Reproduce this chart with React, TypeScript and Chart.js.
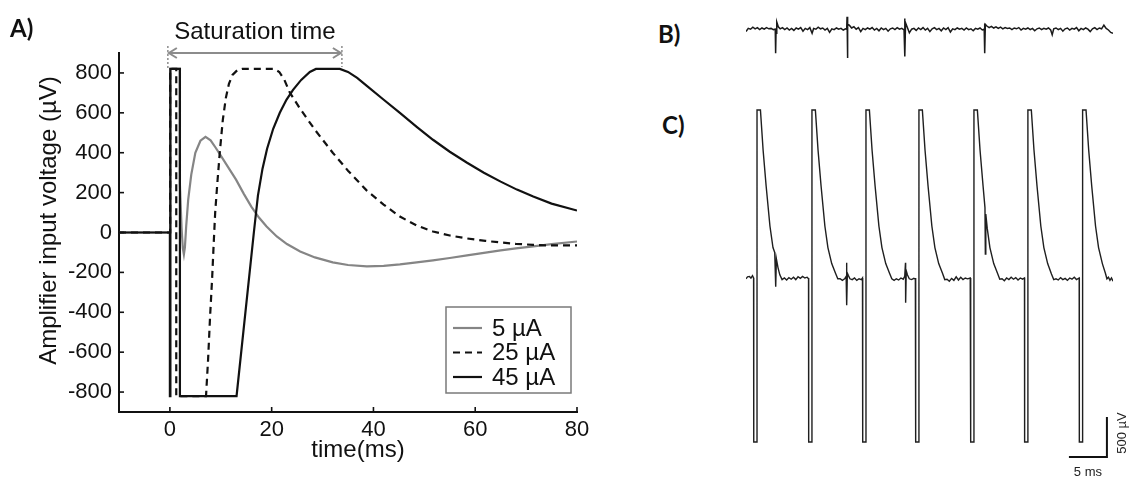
import React, { useEffect, useRef } from "react";
import { Chart, registerables } from "chart.js";

Chart.register(...registerables);

type P = [number, number];

const FONT = "'Liberation Sans', Arial, Helvetica, sans-serif";

// ---------------- Panel A : amplifier input voltage vs time ----------------
const timeTicksA = [0, 20, 40, 60, 80];
const voltTicksA = [-800, -600, -400, -200, 0, 200, 400, 600, 800];
const seriesLabelsA = ["5 µA", "25 µA", "45 µA"];
const saturationSpanA: P = [-0.4, 33.8];

const curve5uA: P[] = [
  [-10, 0], [0.05, 0], [0.05, 820], [1.95, 820], [1.95, 250], [2.3, 20], [2.55, -80], [2.75, -110],
  [2.95, -75], [3.2, 30], [3.6, 165], [4.2, 290], [5.0, 400], [6.0, 460], [7.0, 480], [8.0, 462],
  [9.0, 425], [10.0, 385], [11.5, 325], [13.0, 265], [14.5, 195], [16.0, 130], [17.5, 75], [19.0, 30],
  [21.0, -20], [23.0, -58], [25.6, -95], [28.5, -125], [32.0, -150], [35.0, -163], [38.7, -170],
  [42.0, -167], [45.2, -160], [48.5, -150], [51.7, -140], [55.0, -128], [58.4, -115], [61.7, -102],
  [65.0, -90], [68.0, -80], [71.4, -70], [75.0, -58], [80.0, -45],
];

const curve25uA: P[] = [
  [-10, 0], [0.05, 0], [0.05, 820], [1.25, 820], [1.25, -820], [7.1, -820], [7.5, -640], [7.9, -420],
  [8.3, -230], [8.6, -60], [8.9, 100], [9.3, 240], [9.8, 400], [10.4, 565], [11.0, 675], [11.6, 745],
  [12.3, 790], [13.3, 815], [14.2, 820], [20.5, 820], [21.5, 805], [22.5, 765], [23.6, 700], [25.6, 620],
  [28.5, 515], [32.0, 400], [35.0, 310], [38.7, 210], [42.0, 140], [45.2, 80], [48.5, 35], [51.7, 5],
  [55.0, -15], [58.4, -30], [62.0, -42], [65.0, -50], [68.0, -57], [71.4, -62], [75.0, -65], [80.0, -65],
];

const curve45uA: P[] = [
  [-10, 0], [0, 0], [0, -820], [0.1, -820], [0.1, 820], [1.97, 820], [1.97, -820], [13.1, -820],
  [16.5, 0], [17.3, 185], [18.2, 320], [19.1, 420], [20.3, 520], [21.6, 600], [22.9, 665], [24.2, 715],
  [25.8, 765], [27.5, 805], [28.7, 820], [33.4, 820], [35.0, 805], [36.8, 775], [38.7, 735], [41.9, 668],
  [45.2, 600], [48.5, 530], [51.7, 465], [55.0, 405], [58.4, 350], [61.7, 300], [65.0, 255], [68.2, 215],
  [71.4, 180], [75.0, 145], [80.0, 110],
];

// ---------------- Panel B : recording without stimulation (ms, µV) ----------------
const traceB: P[] = [
  [0, -20], [0.3, 20], [0.6, 10], [0.9, 35], [1.2, 15], [1.5, 30], [1.8, 5], [2.1, 25], [2.4, 10], [2.7, 30],
  [3.0, 15], [3.3, 20], [3.6, 5], [3.85, 10], [3.9, -290], [3.95, -40], [4.05, 100], [4.25, 40], [4.5, 15],
  [4.8, 30], [5.1, 5], [5.4, 25], [5.7, 0], [6.0, 20], [6.3, -5], [6.6, 25], [6.9, 10], [7.2, 30], [7.5, -15],
  [7.8, 20], [8.1, 5], [8.4, 30], [8.7, -40], [8.9, 20], [9.2, 10], [9.5, 35], [9.8, 15], [10.1, 25], [10.4, 0],
  [10.7, 20], [11.0, -30], [11.3, 15], [11.6, 5], [11.9, 25], [12.2, 10], [12.5, 20], [12.8, 0], [13.1, 15],
  [13.25, 10], [13.3, 165], [13.33, -350], [13.42, 70], [13.6, 60], [13.9, 25], [14.2, 40], [14.5, 10],
  [14.8, 30], [15.1, -20], [15.4, 20], [15.7, 5], [16.0, 25], [16.3, 10], [16.6, 30], [16.9, 0], [17.2, 20],
  [17.5, -10], [17.8, 25], [18.1, 5], [18.4, 20], [18.7, -15], [19.0, 15], [19.3, 25], [19.6, 5], [19.9, 30],
  [20.2, 10], [20.5, 20], [20.8, 0], [20.88, 145], [20.92, -330], [21.0, 90], [21.2, 40], [21.5, -35],
  [21.8, 10], [22.1, 20], [22.4, -5], [22.7, 25], [23.0, 5], [23.3, 30], [23.6, 0], [23.9, 20], [24.2, -20],
  [24.5, 15], [24.8, 30], [25.1, 5], [25.4, 20], [25.7, -10], [26.0, 25], [26.3, 5], [26.6, 30], [26.9, -25],
  [27.2, 15], [27.5, 5], [27.8, 25], [28.1, 10], [28.4, 20], [28.7, 0], [29.0, 25], [29.3, 5], [29.6, 15],
  [29.9, -10], [30.2, 20], [30.5, 10], [30.8, 25], [31.1, 0], [31.35, 10], [31.4, 80], [31.43, -290],
  [31.5, 70], [31.7, 50], [32.0, 30], [32.3, 45], [32.6, 25], [32.9, 40], [33.2, 20], [33.5, 35], [33.8, 15],
  [34.1, 30], [34.4, 20], [34.7, 25], [35.0, 5], [35.3, 25], [35.6, 15], [35.9, 30], [36.2, 0], [36.5, 20],
  [36.8, 10], [37.1, 25], [37.4, 5], [37.7, 20], [38.0, -10], [38.3, 15], [38.6, 25], [38.9, 5], [39.2, 20],
  [39.5, 10], [39.8, 25], [40.1, 0], [40.3, -60], [40.5, 15], [40.8, 25], [41.1, 5], [41.4, 20], [41.7, -15],
  [42.0, 15], [42.3, 25], [42.6, 0], [42.9, 20], [43.2, 10], [43.5, 30], [43.8, -10], [44.1, 20], [44.4, 5],
  [44.7, 25], [45.0, 10], [45.3, -20], [45.6, 15], [45.9, 30], [46.2, 5], [46.5, 25], [46.8, 15], [47.1, 60],
  [47.4, 20], [47.7, 0], [48.0, -30], [48.3, -40],
];

// ---------------- Panel C : recording during stimulation (ms, µV) ----------------
const pulseTimesC = [1.45, 8.68, 15.79, 22.76, 30.0, 37.1, 44.3];
const pulseShapeC: P[] = [[-0.43, 0], [-0.43, -2050], [0, -2050], [0, 2100], [0.45, 2100]];
const leadInC: P[] = [[0, -10], [0.2, 15], [0.45, 20], [0.65, 0], [0.85, 30], [1.0, 0]];
const pulseTailsC: P[][] = [
  [[0.8, 1600], [1.2, 1150], [1.7, 650], [2.1, 380], [2.33, 320], [2.46, -110], [2.55, 240], [2.76, 130],
   [3.0, 40], [3.3, -20], [3.6, 0], [3.9, -25], [4.2, 5], [4.5, -15], [4.8, 10], [5.1, -20], [5.4, 15],
   [5.7, -5], [6.0, 20], [6.3, 0], [6.6, 10], [6.78, -10]],
  [[0.8, 1600], [1.2, 1150], [1.7, 650], [2.1, 380], [2.6, 180], [3.1, 60], [3.4, -10], [3.7, -10],
   [4.0, -30], [4.3, -10], [4.5, 20], [4.56, 190], [4.58, -340], [4.66, 60], [4.8, 30], [5.0, -10],
   [5.3, -20], [5.6, 0], [5.9, -30], [6.2, -10], [6.5, -20], [6.65, 0]],
  [[0.8, 1600], [1.2, 1150], [1.7, 650], [2.1, 380], [2.6, 180], [3.1, 60], [3.4, -10], [3.7, -30],
   [4.0, -10], [4.3, -25], [4.6, 0], [4.9, -15], [5.1, 20], [5.2, 190], [5.22, -310], [5.3, 90],
   [5.45, 40], [5.7, -10], [6.0, -20], [6.3, -5], [6.5, -15]],
  [[0.8, 1600], [1.2, 1150], [1.7, 650], [2.1, 380], [2.6, 180], [3.1, 60], [3.4, -20], [3.7, -15],
   [4.0, -40], [4.3, -5], [4.6, -30], [4.9, 15], [5.2, -25], [5.5, 10], [5.8, -20], [6.1, 0], [6.4, -10],
   [6.75, 0]],
  [[0.8, 1600], [1.2, 1150], [1.45, 880], [1.5, 300], [1.56, 800], [1.75, 620], [2.1, 380], [2.6, 180],
   [3.1, 60], [3.4, -15], [3.7, -10], [4.0, -35], [4.3, 0], [4.6, -20], [4.9, 10], [5.2, -15], [5.5, 5],
   [5.8, -25], [6.1, 0], [6.4, -15], [6.65, 0]],
  [[0.8, 1600], [1.2, 1150], [1.7, 650], [2.1, 380], [2.6, 180], [3.1, 50], [3.4, -20], [3.7, -10],
   [4.0, -25], [4.3, 5], [4.6, -20], [4.9, -5], [5.2, -30], [5.5, 0], [5.8, -15], [6.1, 10], [6.4, -20],
   [6.75, 0]],
  [[0.8, 1600], [1.2, 1150], [1.7, 650], [2.1, 380], [2.6, 180], [3.0, 60], [3.2, -10], [3.4, 10],
   [3.6, -30], [3.8, 0], [4.0, -40]],
];
const scaleBarCornerC: P = [47.5, -2237];
const scaleBarMsC = 5;
const scaleBarUvC = 500;

// ---------------- helpers ----------------
const toXY = (arr: P[]) => arr.map(([x, y]) => ({ x, y }));

function buildTraceC() {
  const out: { x: number; y: number }[] = [];
  leadInC.forEach(([t, v]) => out.push({ x: t, y: v }));
  pulseTimesC.forEach((T, i) => {
    pulseShapeC.forEach(([dt, v]) => out.push({ x: T + dt, y: v }));
    pulseTailsC[i].forEach(([dt, v]) => out.push({ x: T + dt, y: v }));
  });
  return out;
}

function seg(ctx: CanvasRenderingContext2D, x1: number, y1: number, x2: number, y2: number) {
  ctx.beginPath();
  ctx.moveTo(x1, y1);
  ctx.lineTo(x2, y2);
  ctx.stroke();
}

const panelAPlugin = {
  id: "panelAExtras",
  afterDraw(chart: any) {
    const { ctx, chartArea: ca } = chart;
    const x = chart.scales.x;
    const y = chart.scales.y;
    ctx.save();
    // inward tick marks
    ctx.strokeStyle = "#111";
    ctx.lineWidth = 1.6;
    timeTicksA.forEach((v) => {
      const px = x.getPixelForValue(v);
      seg(ctx, px, ca.bottom, px, ca.bottom - 5);
    });
    voltTicksA.forEach((v) => {
      const py = y.getPixelForValue(v);
      seg(ctx, ca.left, py, ca.left + 5, py);
    });

    // axis titles
    ctx.fillStyle = "#111";
    ctx.font = `24px ${FONT}`;
    ctx.textAlign = "center";
    ctx.textBaseline = "middle";
    ctx.fillText("time(ms)", (ca.left + ca.right) / 2 + 10, ca.bottom + 38);
    ctx.save();
    ctx.translate(ca.left - 70, (ca.top + ca.bottom) / 2 - 12);
    ctx.rotate(-Math.PI / 2);
    ctx.fillText("Amplifier input voltage (µV)", 0, 0);
    ctx.restore();

    // saturation time arrow
    const xs = x.getPixelForValue(saturationSpanA[0]);
    const xe = x.getPixelForValue(saturationSpanA[1]);
    const ya = ca.top;
    ctx.strokeStyle = "#8c8c8c";
    ctx.lineWidth = 2;
    seg(ctx, xs + 1, ya, xe - 1, ya);
    ctx.beginPath();
    ctx.moveTo(xs + 9, ya - 5);
    ctx.lineTo(xs + 1, ya);
    ctx.lineTo(xs + 9, ya + 5);
    ctx.moveTo(xe - 9, ya - 5);
    ctx.lineTo(xe - 1, ya);
    ctx.lineTo(xe - 9, ya + 5);
    ctx.stroke();
    ctx.setLineDash([2, 2]);
    ctx.lineWidth = 1.5;
    seg(ctx, xs, ya - 7, xs, ya + 16);
    seg(ctx, xe, ya - 7, xe, ya + 14);
    ctx.setLineDash([]);
    ctx.fillStyle = "#111";
    ctx.fillText("Saturation time", (xs + xe) / 2, ya - 21);

    // legend
    const lw = 125, lh = 86;
    const lx = ca.right - 6 - lw;
    const ly = ca.bottom - 19 - lh;
    ctx.fillStyle = "#fff";
    ctx.fillRect(lx, ly, lw, lh);
    ctx.strokeStyle = "#7a7a7a";
    ctx.lineWidth = 1.5;
    ctx.strokeRect(lx, ly, lw, lh);
    chart.data.datasets.forEach((ds: any, i: number) => {
      const yy = ly + 21 + i * 24.5;
      ctx.strokeStyle = ds.borderColor;
      ctx.lineWidth = 2.2;
      ctx.setLineDash(ds.borderDash || []);
      seg(ctx, lx + 7, yy, lx + 36, yy);
      ctx.setLineDash([]);
      ctx.fillStyle = "#111";
      ctx.textAlign = "left";
      ctx.fillText(seriesLabelsA[i], lx + 46, yy + 1);
    });
    ctx.restore();
  },
};

const panelCPlugin = {
  id: "panelCExtras",
  afterDraw(chart: any) {
    const { ctx } = chart;
    const x = chart.scales.x;
    const y = chart.scales.y;
    const x0 = x.getPixelForValue(scaleBarCornerC[0] - scaleBarMsC);
    const x1 = x.getPixelForValue(scaleBarCornerC[0]);
    const y0 = y.getPixelForValue(scaleBarCornerC[1]);
    const y1 = y.getPixelForValue(scaleBarCornerC[1] + scaleBarUvC);
    ctx.save();
    ctx.fillStyle = "#222";
    ctx.font = `13px ${FONT}`;
    ctx.textAlign = "center";
    ctx.textBaseline = "middle";
    ctx.fillText(`${scaleBarMsC} ms`, (x0 + x1) / 2, y0 + 15);
    ctx.translate(x1 + 16, (y0 + y1) / 2 - 4);
    ctx.rotate(-Math.PI / 2);
    ctx.fillText(`${scaleBarUvC} µV`, 0, 0);
    ctx.restore();
  },
};

function useChart(ref: React.RefObject<HTMLCanvasElement | null>, make: () => any) {
  useEffect(() => {
    if (!ref.current) return;
    const chart = new Chart(ref.current, make());
    return () => chart.destroy();
  }, []);
}

function PanelA() {
  const ref = useRef<HTMLCanvasElement>(null);
  useChart(ref, () => ({
    type: "line",
    data: {
      datasets: [
        { label: seriesLabelsA[0], data: toXY(curve5uA), borderColor: "#858585", borderWidth: 2.2, order: 3 },
        { label: seriesLabelsA[1], data: toXY(curve25uA), borderColor: "#111", borderWidth: 2.2, borderDash: [7, 5], order: 2 },
        { label: seriesLabelsA[2], data: toXY(curve45uA), borderColor: "#111", borderWidth: 2.2, order: 1 },
      ],
    },
    options: {
      animation: false,
      responsive: false,
      devicePixelRatio: 1,
      layout: { padding: { left: 0, right: 43, top: 53, bottom: 0 } },
      elements: { point: { radius: 0 }, line: { tension: 0, fill: false } },
      plugins: { legend: { display: false }, tooltip: { enabled: false } },
      scales: {
        x: {
          type: "linear",
          min: -10,
          max: 80,
          afterBuildTicks: (s: any) => { s.ticks = timeTicksA.map((v) => ({ value: v })); },
          afterFit: (s: any) => { s.height = 65; },
          grid: { display: false, drawTicks: false },
          border: { display: true, color: "#111", width: 2 },
          ticks: { font: { size: 22, family: FONT }, color: "#111", padding: 5, maxRotation: 0, autoSkip: false },
        },
        y: {
          type: "linear",
          min: -900,
          max: 900,
          afterBuildTicks: (s: any) => { s.ticks = voltTicksA.map((v) => ({ value: v })); },
          afterFit: (s: any) => { s.width = 119; },
          grid: { display: false, drawTicks: false },
          border: { display: true, color: "#111", width: 2 },
          ticks: { font: { size: 22, family: FONT }, color: "#111", padding: 7, autoSkip: false },
        },
      },
    },
    plugins: [panelAPlugin],
  }));
  return <canvas ref={ref} width={620} height={477} style={{ position: "absolute", left: 0, top: 0 }} />;
}

function PanelB() {
  const ref = useRef<HTMLCanvasElement>(null);
  useChart(ref, () => ({
    type: "line",
    data: { datasets: [{ data: toXY(traceB), borderColor: "#1a1a1a", borderWidth: 1.5 }] },
    options: {
      animation: false,
      responsive: false,
      devicePixelRatio: 1,
      layout: { padding: { left: 46, right: 20, top: 0, bottom: 0 } },
      elements: { point: { radius: 0 }, line: { tension: 0 } },
      plugins: { legend: { display: false }, tooltip: { enabled: false } },
      scales: {
        x: { type: "linear", min: 0, max: 48.3, display: false },
        y: { type: "linear", min: -500, max: 375, display: false },
      },
    },
  }));
  return <canvas ref={ref} width={433} height={70} style={{ position: "absolute", left: 700, top: 0 }} />;
}

function PanelC() {
  const ref = useRef<HTMLCanvasElement>(null);
  useChart(ref, () => ({
    type: "line",
    data: {
      datasets: [
        { data: buildTraceC(), borderColor: "#1f1f1f", borderWidth: 1.4 },
        {
          data: toXY([
            [scaleBarCornerC[0] - scaleBarMsC, scaleBarCornerC[1]],
            scaleBarCornerC,
            [scaleBarCornerC[0], scaleBarCornerC[1] + scaleBarUvC],
          ]),
          borderColor: "#111",
          borderWidth: 2,
          clip: false,
        },
      ],
    },
    options: {
      animation: false,
      responsive: false,
      devicePixelRatio: 1,
      layout: { padding: { left: 46, right: 20, top: 6, bottom: 7 } },
      elements: { point: { radius: 0 }, line: { tension: 0 } },
      plugins: { legend: { display: false }, tooltip: { enabled: false } },
      scales: {
        x: { type: "linear", min: 0, max: 48.3, display: false },
        y: { type: "linear", min: -2400, max: 2400, display: false },
      },
    },
    plugins: [panelCPlugin],
  }));
  return <canvas ref={ref} width={433} height={397} style={{ position: "absolute", left: 700, top: 80 }} />;
}

const labelStyle: React.CSSProperties = {
  position: "absolute",
  fontFamily: "Lato, 'Open Sans', sans-serif",
  fontWeight: 700,
  fontSize: 24,
  lineHeight: "24px",
  color: "#111",
};

export default function App() {
  return (
    <div style={{ position: "absolute", left: 0, top: 0, width: 1133, height: 477, background: "#fff", overflow: "hidden" }}>
      <PanelA />
      <PanelB />
      <PanelC />
      <div style={{ ...labelStyle, left: 10, top: 16 }}>A)</div>
      <div style={{ ...labelStyle, left: 658, top: 22 }}>B)</div>
      <div style={{ ...labelStyle, left: 662, top: 113 }}>C)</div>
    </div>
  );
}
